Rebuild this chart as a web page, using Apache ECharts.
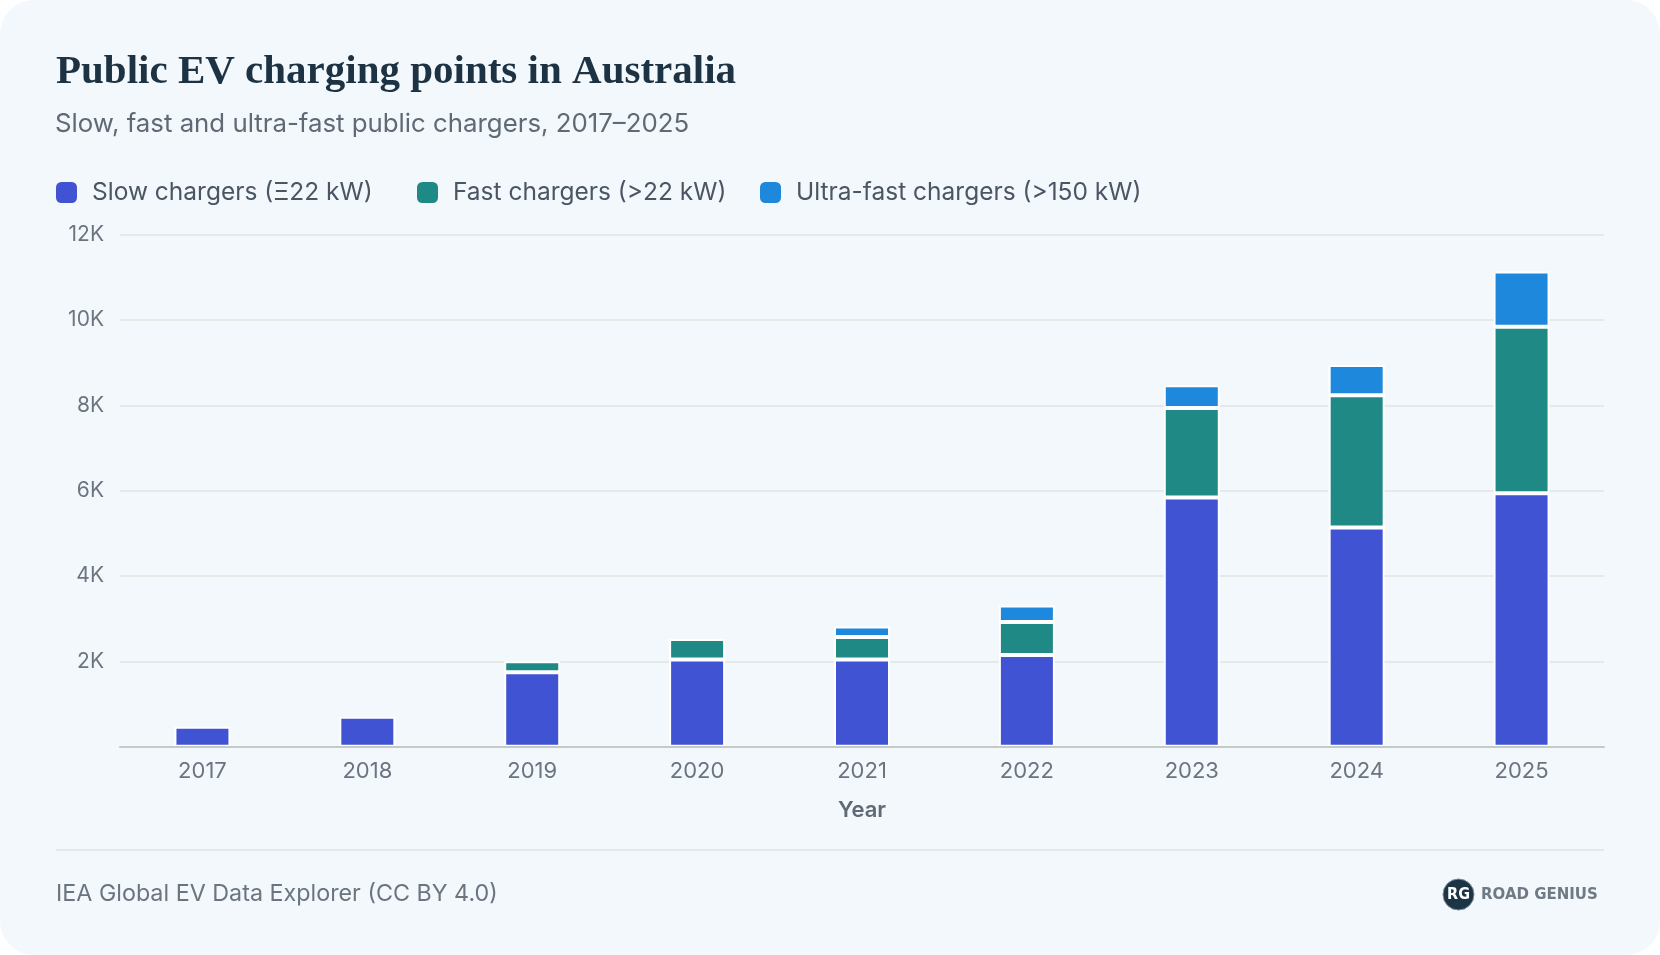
<!DOCTYPE html>
<html>
<head>
<meta charset="utf-8">
<script src="https://cdn.jsdelivr.net/npm/echarts@6/dist/echarts.min.js"></script>
<style>
html,body{margin:0;padding:0;background:#ffffff;}
#c{width:1660px;height:955px;border-radius:34px;overflow:hidden;background:#f3f8fd;}
</style>
</head>
<body>
<div id="c"></div>
<script>
const categories = ['2017', '2018', '2019', '2020', '2021', '2022', '2023', '2024', '2025'];
const slowChargers = [470, 700, 1745, 2045, 2045, 2150, 5840, 5140, 5940];
const fastChargers = [null, null, 255, 480, 525, 775, 2100, 3095, 3900];
const ultraFastChargers = [null, null, null, null, 250, 385, 530, 710, 1295];
const seriesNames = ['Slow chargers (Ξ22 kW)', 'Fast chargers (>22 kW)', 'Ultra-fast chargers (>150 kW)'];
const yTickValues = [0, 2000, 4000, 6000, 8000, 10000, 12000];
const yTickLabels = ['', '2K', '4K', '6K', '8K', '10K', '12K'];

const SANS = 'Inter, "Noto Sans", sans-serif';
const chart = echarts.init(document.getElementById('c'), null, {renderer: 'canvas'});

function barSeries(name, data, color) {
  return {
    name: name,
    type: 'bar',
    stack: 'total',
    data: data,
    barWidth: 56,
    itemStyle: {color: color, borderColor: '#ffffff', borderWidth: 2},
    emphasis: {disabled: true}
  };
}

function legendItem(name, left) {
  return {
    left: left, top: 180, padding: 0,
    itemWidth: 21, itemHeight: 21,
    icon: 'roundRect',
    selectedMode: false,
    itemStyle: {borderWidth: 0},
    textStyle: {fontFamily: SANS, fontSize: 24.5, lineHeight: 24, color: '#4b5663', padding: [0, 0, 0, 10]},
    data: [name]
  };
}

chart.setOption({
  backgroundColor: 'transparent',
  animation: false,
  color: ['#4053d3', '#1f8a85', '#1e88dc'],
  title: [
    {
      text: 'Public EV charging points in Australia',
      left: 56, top: 48, padding: 0,
      textStyle: {fontFamily: '"Liberation Serif", "DejaVu Serif", serif', fontWeight: 'bold', fontSize: 41, lineHeight: 48, color: '#1d3343'}
    },
    {
      text: 'Slow, fast and ultra-fast public chargers, 2017–2025',
      left: 55, top: 110, padding: 0,
      textStyle: {fontFamily: SANS, fontWeight: 'normal', fontSize: 25.8, lineHeight: 28, color: '#5f6a75'}
    }
  ],
  legend: [
    legendItem(seriesNames[0], 56),
    legendItem(seriesNames[1], 417),
    legendItem(seriesNames[2], 760)
  ],
  grid: {left: 120, right: 56, top: 234.7, bottom: 208.3, outerBoundsMode: 'none'},
  xAxis: {
    type: 'category',
    data: categories,
    z: 5,
    axisLine: {lineStyle: {color: '#c5cac5', width: 2}},
    axisTick: {show: false},
    axisLabel: {fontFamily: SANS, fontSize: 22, color: '#6b7580', margin: 14},
    name: 'Year',
    nameLocation: 'middle',
    nameGap: 53,
    nameTextStyle: {fontFamily: SANS, fontSize: 22, fontWeight: 600, color: '#5f6a75'}
  },
  yAxis: {
    type: 'value',
    min: 0, max: 12000, interval: 2000,
    axisLine: {show: false},
    axisTick: {show: false},
    axisLabel: {
      fontFamily: SANS, fontSize: 21, color: '#6b7580', margin: 16,
      formatter: function (v) { const i = yTickValues.indexOf(v); return i >= 0 ? yTickLabels[i] : ''; }
    },
    splitLine: {lineStyle: {color: '#e1e6e1', width: 1.5}}
  },
  series: [
    barSeries(seriesNames[0], slowChargers, '#4053d3'),
    barSeries(seriesNames[1], fastChargers, '#1f8a85'),
    barSeries(seriesNames[2], ultraFastChargers, '#1e88dc')
  ],
  graphic: [
    {type: 'line', shape: {x1: 56, y1: 850, x2: 1604, y2: 850}, style: {stroke: '#dfe5df', lineWidth: 1.5}, silent: true},
    {type: 'text', x: 56, y: 894, style: {text: 'IEA Global EV Data Explorer (CC BY 4.0)', font: '23.3px ' + SANS, fill: '#6b7580', verticalAlign: 'middle'}, silent: true},
    {type: 'circle', shape: {cx: 1458.5, cy: 894.5, r: 15.5}, style: {fill: '#1c3545', stroke: '#7d8a94', lineWidth: 1}, silent: true},
    {type: 'text', x: 1458.5, y: 895, style: {text: 'RG', font: 'bold 16px "DejaVu Sans Condensed", "DejaVu Sans", sans-serif', fill: '#ffffff', align: 'center', verticalAlign: 'middle'}, silent: true},
    {type: 'text', x: 1481, y: 895, style: {text: 'ROAD GENIUS', font: 'bold 15px "DejaVu Sans", sans-serif', fill: '#6f7a85', verticalAlign: 'middle'}, silent: true}
  ]
});
</script>
</body>
</html>
